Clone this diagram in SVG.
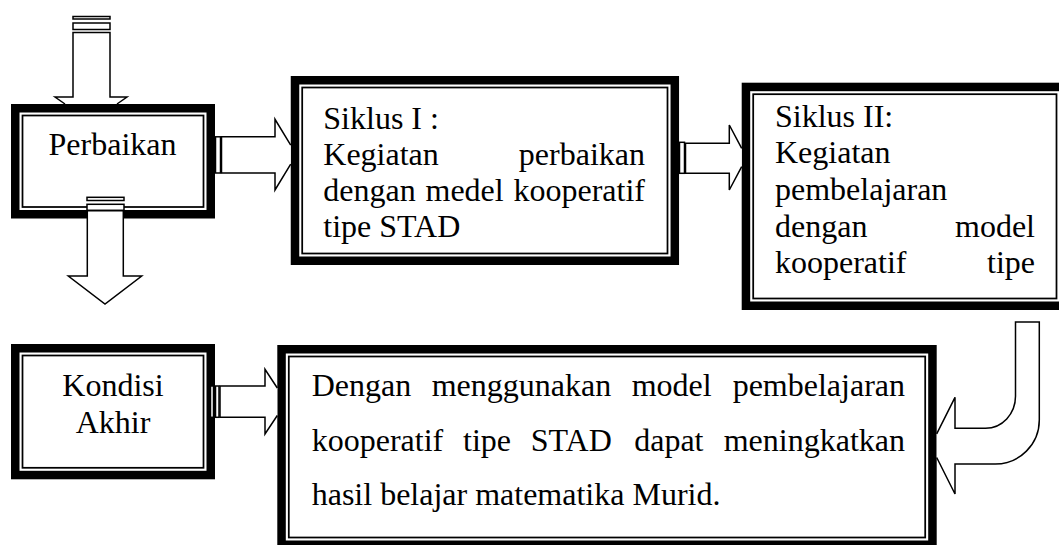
<svg xmlns="http://www.w3.org/2000/svg" width="1059" height="545" viewBox="0 0 1059 545">
<style>
.thick{fill:#fff;stroke:#000;stroke-width:8.5}
.thin{fill:none;stroke:#000;stroke-width:1.75}
text{font-family:"Liberation Serif","Times New Roman",serif;font-size:32px;fill:#000}
.e{text-anchor:end}
.m{text-anchor:middle}
.arr{fill:#fff;stroke:#000;stroke-width:1.5;stroke-linejoin:miter}
</style>
<rect width="1059" height="545" fill="#fff"/>
<g id="perbaikan">
<rect class="thick" x="15.25" y="108.25" width="195.5" height="106"/>
<rect class="thin" x="22.5" y="115.5" width="181" height="91.5"/>
<text class="m" x="112.5" y="155">Perbaikan</text>
</g>
<g id="siklus1">
<rect class="thick" x="295" y="80.25" width="379.8" height="180.5"/>
<rect class="thin" x="302.2" y="87.5" width="365.3" height="166"/>
<text x="323.3" y="128.5">Siklus I :</text>
<text x="323.3" y="164.6">Kegiatan</text>
<text class="e" x="645" y="164.6">perbaikan</text>
<text x="323.3" y="200.7">dengan</text>
<text x="425.5" y="200.7">medel</text>
<text class="e" x="645" y="200.7">kooperatif</text>
<text x="323.3" y="236.8">tipe STAD</text>
</g>
<g id="siklus2">
<rect class="thick" x="745.95" y="86.95" width="317.8" height="218.8"/>
<rect class="thin" x="753.2" y="94.2" width="303.3" height="204.3"/>
<text x="775" y="126.7">Siklus II:</text>
<text x="775" y="163.3">Kegiatan</text>
<text x="775" y="200">pembelajaran</text>
<text x="775" y="236.7">dengan</text>
<text class="e" x="1035" y="236.7">model</text>
<text x="775" y="273.3">kooperatif</text>
<text class="e" x="1035" y="273.3">tipe</text>
</g>
<g id="kondisi">
<rect class="thick" x="15.25" y="348.25" width="195.5" height="126.8"/>
<rect class="thin" x="22.5" y="355.5" width="181" height="112.3"/>
<text class="m" x="113" y="396">Kondisi</text>
<text class="m" x="113" y="433">Akhir</text>
</g>
<g id="hasil">
<rect class="thick" x="281.55" y="349.25" width="650.9" height="195.5"/>
<rect class="thin" x="288.8" y="356.5" width="636.4" height="181"/>
<text x="311.7" y="396">Dengan</text>
<text x="431.7" y="396">menggunakan</text>
<text x="631.7" y="396">model</text>
<text class="e" x="905" y="396">pembelajaran</text>
<text x="311.7" y="450.5">kooperatif</text>
<text x="463" y="450.5">tipe</text>
<text x="530.8" y="450.5">STAD</text>
<text x="634.2" y="450.5">dapat</text>
<text class="e" x="905" y="450.5">meningkatkan</text>
<text x="311.7" y="505">hasil belajar matematika Murid.</text>
</g>
<g id="connectors">
<rect class="arr" x="73" y="16.5" width="37" height="2.5"/>
<rect class="arr" x="73" y="23" width="37" height="6.5"/>
<path class="arr" d="M65,104 L55,97 L73,97 L73,32.5 L110,32.5 L110,97 L127,97 L117,104"/>
<rect class="arr" x="87" y="197.3" width="37" height="3.2"/>
<rect class="arr" x="87" y="204.3" width="37" height="6"/>
<path class="arr" d="M87.3,210.8 L123.3,210.8 L123.3,276 L141.7,276 L105,304 L68.3,276 L87.3,276 Z"/>
<rect class="arr" x="215.5" y="136.8" width="5" height="36.2"/>
<path class="arr" d="M290.7,145.2 L275,119.3 L275,136.8 L221.5,136.8 L221.5,173 L275,173 L275,190 L290.7,164.2"/>
<rect class="arr" x="679.5" y="142.3" width="5" height="31"/>
<path class="arr" d="M741.7,148.4 L729.3,125 L729.3,143.3 L685.5,143.3 L685.5,173.3 L729.3,173.3 L729.3,190 L741.7,166.6"/>
<rect class="arr" x="210.5" y="386" width="3" height="31.3"/>
<rect class="arr" x="215.5" y="386" width="3.5" height="31.3"/>
<path class="arr" d="M277.3,388 L265,369.3 L265,386 L220,386 L220,417.3 L265,417.3 L265,434 L277.3,415.5"/>
<path class="arr" d="M936.7,433.9 L955,397.3 L955,428.3 L985.5,428.3 A30,32 0 0 0 1015.5,396.3 L1015.5,322 L1039.3,322 L1039.3,420 A44,44 0 0 1 995.3,464 L955,464 L955,494 L936.7,457.5"/>
</g>
</svg>
